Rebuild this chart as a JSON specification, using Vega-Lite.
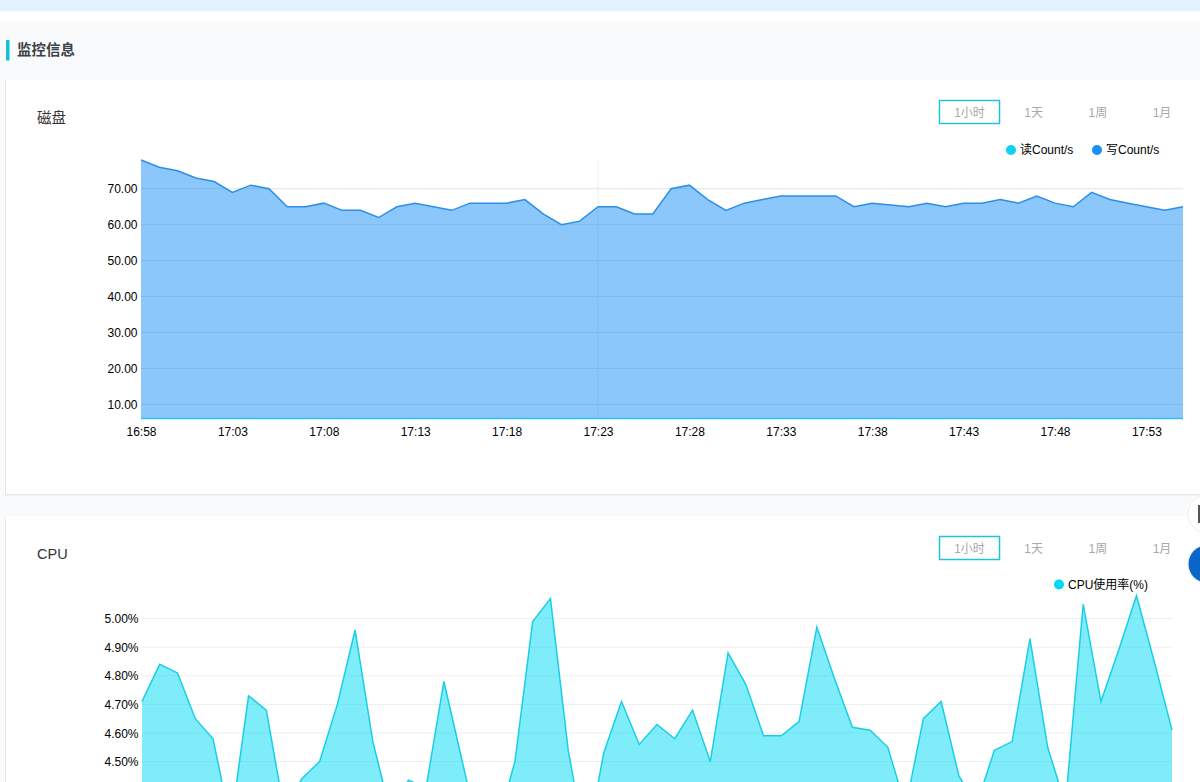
{
"$schema":"https://vega.github.io/schema/vega-lite/v6.json",
"width":1200,"height":782,"padding":0,
"autosize":{"type":"fit","contains":"padding"},
"background":"#f8fafc",
"view":{"stroke":null},
"config":{"font":"Liberation Sans, Noto Sans CJK SC","view":{"stroke":null},
"axis":{"domain":false,"ticks":false,"grid":false,"title":null,"labelColor":"#000000","labelFontSize":12,"labelFont":"Liberation Sans, Noto Sans CJK SC","labelOverlap":false,"labelBound":false,"labelFlush":false},
"legend":{"labelFont":"Liberation Sans, Noto Sans CJK SC","labelFontSize":12,"labelColor":"#000000","title":null}},
"resolve":{"scale":{"x":"independent","y":"independent","color":"independent"},"axis":{"x":"independent","y":"independent"},"legend":{"color":"independent"}},
"datasets":{
"cards":[{"card":"磁盘"},{"card":"CPU"}],
"strip":[{"part":"顶栏"}],
"gap":[{"part":"间隔"}],
"section":[{"name":"监控信息"}],
"icon":[{"name":"工具图标"}],
"buttons":[
{"card":"磁盘","range":"1小时","selected":true},{"card":"磁盘","range":"1天","selected":false},{"card":"磁盘","range":"1周","selected":false},{"card":"磁盘","range":"1月","selected":false},
{"card":"CPU","range":"1小时","selected":true},{"card":"CPU","range":"1天","selected":false},{"card":"CPU","range":"1周","selected":false},{"card":"CPU","range":"1月","selected":false}],
"float":[{"name":"工具","color":"#ffffff"},{"name":"客服","color":"#0a66c8"}],
"diskGrid":[{"v":10,"from":"2024-01-01T16:58:00","to":"2024-01-01T17:55:00"},{"v":20,"from":"2024-01-01T16:58:00","to":"2024-01-01T17:55:00"},{"v":30,"from":"2024-01-01T16:58:00","to":"2024-01-01T17:55:00"},{"v":40,"from":"2024-01-01T16:58:00","to":"2024-01-01T17:55:00"},{"v":50,"from":"2024-01-01T16:58:00","to":"2024-01-01T17:55:00"},{"v":60,"from":"2024-01-01T16:58:00","to":"2024-01-01T17:55:00"},{"v":70,"from":"2024-01-01T16:58:00","to":"2024-01-01T17:55:00"}],
"cross":[{"t":"2024-01-01T17:23:00","lo":6.1,"hi":78}],
"cpuGrid":[{"v":4.5,"from":"2024-01-01T16:58:00","to":"2024-01-01T17:56:00"},{"v":4.6,"from":"2024-01-01T16:58:00","to":"2024-01-01T17:56:00"},{"v":4.7,"from":"2024-01-01T16:58:00","to":"2024-01-01T17:56:00"},{"v":4.8,"from":"2024-01-01T16:58:00","to":"2024-01-01T17:56:00"},{"v":4.9,"from":"2024-01-01T16:58:00","to":"2024-01-01T17:56:00"},{"v":5.0,"from":"2024-01-01T16:58:00","to":"2024-01-01T17:56:00"}],
"disk":[
{"t":"2024-01-01T16:58:00","s":"读Count/s","v":6.1},{"t":"2024-01-01T17:55:00","s":"读Count/s","v":6.1},
{"t":"2024-01-01T16:58:00","s":"写Count/s","v":78},{"t":"2024-01-01T16:59:00","s":"写Count/s","v":76},{"t":"2024-01-01T17:00:00","s":"写Count/s","v":75},{"t":"2024-01-01T17:01:00","s":"写Count/s","v":73},{"t":"2024-01-01T17:02:00","s":"写Count/s","v":72},{"t":"2024-01-01T17:03:00","s":"写Count/s","v":69},{"t":"2024-01-01T17:04:00","s":"写Count/s","v":71},{"t":"2024-01-01T17:05:00","s":"写Count/s","v":70},{"t":"2024-01-01T17:06:00","s":"写Count/s","v":65},{"t":"2024-01-01T17:07:00","s":"写Count/s","v":65},
{"t":"2024-01-01T17:08:00","s":"写Count/s","v":66},{"t":"2024-01-01T17:09:00","s":"写Count/s","v":64},{"t":"2024-01-01T17:10:00","s":"写Count/s","v":64},{"t":"2024-01-01T17:11:00","s":"写Count/s","v":62},{"t":"2024-01-01T17:12:00","s":"写Count/s","v":65},{"t":"2024-01-01T17:13:00","s":"写Count/s","v":66},{"t":"2024-01-01T17:14:00","s":"写Count/s","v":65},{"t":"2024-01-01T17:15:00","s":"写Count/s","v":64},{"t":"2024-01-01T17:16:00","s":"写Count/s","v":66},{"t":"2024-01-01T17:17:00","s":"写Count/s","v":66},
{"t":"2024-01-01T17:18:00","s":"写Count/s","v":66},{"t":"2024-01-01T17:19:00","s":"写Count/s","v":67},{"t":"2024-01-01T17:20:00","s":"写Count/s","v":63},{"t":"2024-01-01T17:21:00","s":"写Count/s","v":60},{"t":"2024-01-01T17:22:00","s":"写Count/s","v":61},{"t":"2024-01-01T17:23:00","s":"写Count/s","v":65},{"t":"2024-01-01T17:24:00","s":"写Count/s","v":65},{"t":"2024-01-01T17:25:00","s":"写Count/s","v":63},{"t":"2024-01-01T17:26:00","s":"写Count/s","v":63},{"t":"2024-01-01T17:27:00","s":"写Count/s","v":70},
{"t":"2024-01-01T17:28:00","s":"写Count/s","v":71},{"t":"2024-01-01T17:29:00","s":"写Count/s","v":67},{"t":"2024-01-01T17:30:00","s":"写Count/s","v":64},{"t":"2024-01-01T17:31:00","s":"写Count/s","v":66},{"t":"2024-01-01T17:32:00","s":"写Count/s","v":67},{"t":"2024-01-01T17:33:00","s":"写Count/s","v":68},{"t":"2024-01-01T17:34:00","s":"写Count/s","v":68},{"t":"2024-01-01T17:35:00","s":"写Count/s","v":68},{"t":"2024-01-01T17:36:00","s":"写Count/s","v":68},{"t":"2024-01-01T17:37:00","s":"写Count/s","v":65},
{"t":"2024-01-01T17:38:00","s":"写Count/s","v":66},{"t":"2024-01-01T17:39:00","s":"写Count/s","v":65.5},{"t":"2024-01-01T17:40:00","s":"写Count/s","v":65},{"t":"2024-01-01T17:41:00","s":"写Count/s","v":66},{"t":"2024-01-01T17:42:00","s":"写Count/s","v":65},{"t":"2024-01-01T17:43:00","s":"写Count/s","v":66},{"t":"2024-01-01T17:44:00","s":"写Count/s","v":66},{"t":"2024-01-01T17:45:00","s":"写Count/s","v":67},{"t":"2024-01-01T17:46:00","s":"写Count/s","v":66},{"t":"2024-01-01T17:47:00","s":"写Count/s","v":68},
{"t":"2024-01-01T17:48:00","s":"写Count/s","v":66},{"t":"2024-01-01T17:49:00","s":"写Count/s","v":65},{"t":"2024-01-01T17:50:00","s":"写Count/s","v":69},{"t":"2024-01-01T17:51:00","s":"写Count/s","v":67},{"t":"2024-01-01T17:52:00","s":"写Count/s","v":66},{"t":"2024-01-01T17:53:00","s":"写Count/s","v":65},{"t":"2024-01-01T17:54:00","s":"写Count/s","v":64},{"t":"2024-01-01T17:55:00","s":"写Count/s","v":65}],
"cpu":[
{"t":"2024-01-01T16:58:00","s":"CPU使用率(%)","v":4.71},{"t":"2024-01-01T16:59:00","s":"CPU使用率(%)","v":4.84},{"t":"2024-01-01T17:00:00","s":"CPU使用率(%)","v":4.81},{"t":"2024-01-01T17:01:00","s":"CPU使用率(%)","v":4.65},{"t":"2024-01-01T17:02:00","s":"CPU使用率(%)","v":4.58},{"t":"2024-01-01T17:03:00","s":"CPU使用率(%)","v":4.28},{"t":"2024-01-01T17:04:00","s":"CPU使用率(%)","v":4.73},{"t":"2024-01-01T17:05:00","s":"CPU使用率(%)","v":4.68},{"t":"2024-01-01T17:06:00","s":"CPU使用率(%)","v":4.33},{"t":"2024-01-01T17:07:00","s":"CPU使用率(%)","v":4.44},
{"t":"2024-01-01T17:08:00","s":"CPU使用率(%)","v":4.5},{"t":"2024-01-01T17:09:00","s":"CPU使用率(%)","v":4.7},{"t":"2024-01-01T17:10:00","s":"CPU使用率(%)","v":4.96},{"t":"2024-01-01T17:11:00","s":"CPU使用率(%)","v":4.57},{"t":"2024-01-01T17:12:00","s":"CPU使用率(%)","v":4.32},{"t":"2024-01-01T17:13:00","s":"CPU使用率(%)","v":4.435},{"t":"2024-01-01T17:14:00","s":"CPU使用率(%)","v":4.41},{"t":"2024-01-01T17:15:00","s":"CPU使用率(%)","v":4.78},{"t":"2024-01-01T17:16:00","s":"CPU使用率(%)","v":4.51},{"t":"2024-01-01T17:17:00","s":"CPU使用率(%)","v":4.24},
{"t":"2024-01-01T17:18:00","s":"CPU使用率(%)","v":4.28},{"t":"2024-01-01T17:19:00","s":"CPU使用率(%)","v":4.5},{"t":"2024-01-01T17:20:00","s":"CPU使用率(%)","v":4.99},{"t":"2024-01-01T17:21:00","s":"CPU使用率(%)","v":5.07},{"t":"2024-01-01T17:22:00","s":"CPU使用率(%)","v":4.54},{"t":"2024-01-01T17:23:00","s":"CPU使用率(%)","v":4.2},{"t":"2024-01-01T17:24:00","s":"CPU使用率(%)","v":4.53},{"t":"2024-01-01T17:25:00","s":"CPU使用率(%)","v":4.71},{"t":"2024-01-01T17:26:00","s":"CPU使用率(%)","v":4.56},{"t":"2024-01-01T17:27:00","s":"CPU使用率(%)","v":4.63},
{"t":"2024-01-01T17:28:00","s":"CPU使用率(%)","v":4.58},{"t":"2024-01-01T17:29:00","s":"CPU使用率(%)","v":4.68},{"t":"2024-01-01T17:30:00","s":"CPU使用率(%)","v":4.5},{"t":"2024-01-01T17:31:00","s":"CPU使用率(%)","v":4.88},{"t":"2024-01-01T17:32:00","s":"CPU使用率(%)","v":4.77},{"t":"2024-01-01T17:33:00","s":"CPU使用率(%)","v":4.59},{"t":"2024-01-01T17:34:00","s":"CPU使用率(%)","v":4.59},{"t":"2024-01-01T17:35:00","s":"CPU使用率(%)","v":4.64},{"t":"2024-01-01T17:36:00","s":"CPU使用率(%)","v":4.97},{"t":"2024-01-01T17:37:00","s":"CPU使用率(%)","v":4.79},
{"t":"2024-01-01T17:38:00","s":"CPU使用率(%)","v":4.62},{"t":"2024-01-01T17:39:00","s":"CPU使用率(%)","v":4.61},{"t":"2024-01-01T17:40:00","s":"CPU使用率(%)","v":4.55},{"t":"2024-01-01T17:41:00","s":"CPU使用率(%)","v":4.34},{"t":"2024-01-01T17:42:00","s":"CPU使用率(%)","v":4.65},{"t":"2024-01-01T17:43:00","s":"CPU使用率(%)","v":4.71},{"t":"2024-01-01T17:44:00","s":"CPU使用率(%)","v":4.45},{"t":"2024-01-01T17:45:00","s":"CPU使用率(%)","v":4.35},{"t":"2024-01-01T17:46:00","s":"CPU使用率(%)","v":4.54},{"t":"2024-01-01T17:47:00","s":"CPU使用率(%)","v":4.57},
{"t":"2024-01-01T17:48:00","s":"CPU使用率(%)","v":4.93},{"t":"2024-01-01T17:49:00","s":"CPU使用率(%)","v":4.55},{"t":"2024-01-01T17:50:00","s":"CPU使用率(%)","v":4.35},{"t":"2024-01-01T17:51:00","s":"CPU使用率(%)","v":5.05},{"t":"2024-01-01T17:52:00","s":"CPU使用率(%)","v":4.71},{"t":"2024-01-01T17:53:00","s":"CPU使用率(%)","v":4.89},{"t":"2024-01-01T17:54:00","s":"CPU使用率(%)","v":5.08},{"t":"2024-01-01T17:55:00","s":"CPU使用率(%)","v":4.85},{"t":"2024-01-01T17:56:00","s":"CPU使用率(%)","v":4.61}]
},
"layer":[
{"data":{"name":"strip"},"mark":{"type":"rect","fill":"#e3f2fd"},"encoding":{
"x":{"field":"part","type":"nominal","axis":null,"scale":{"range":[0,1200],"paddingInner":0,"paddingOuter":0}},
"y":{"field":"part","type":"nominal","axis":null,"scale":{"range":[0,11],"paddingInner":0,"paddingOuter":0}}}},
{"data":{"name":"gap"},"mark":{"type":"rect","fill":"#ffffff"},"encoding":{
"x":{"field":"part","type":"nominal","axis":null,"scale":{"range":[0,1200],"paddingInner":0,"paddingOuter":0}},
"y":{"field":"part","type":"nominal","axis":null,"scale":{"range":[11,22],"paddingInner":0,"paddingOuter":0}}}},
{"data":{"name":"cards"},"mark":{"type":"rect","fill":"#e4e6e8","clip":true},"encoding":{
"x":{"datum":"磁盘","type":"nominal","axis":null,"scale":{"domain":["磁盘"],"range":[5,1200],"paddingInner":0,"paddingOuter":0}},
"y":{"field":"card","type":"nominal","axis":null,"scale":{"domain":["磁盘","CPU"],"range":[81,932],"paddingInner":0.0505,"paddingOuter":0}}}},
{"data":{"name":"cards"},"mark":{"type":"rect","fill":"#ffffff","clip":true},"encoding":{
"x":{"datum":"磁盘","type":"nominal","axis":null,"scale":{"domain":["磁盘"],"range":[6,1200],"paddingInner":0,"paddingOuter":0}},
"y":{"field":"card","type":"nominal","axis":null,"scale":{"domain":["磁盘","CPU"],"range":[80,930],"paddingInner":0.0505,"paddingOuter":0}}}},
{"data":{"name":"section"},"mark":{"type":"rect","fill":"#14c0d8"},"encoding":{
"x":{"field":"name","type":"nominal","axis":null,"scale":{"range":[6,9.5],"paddingInner":0,"paddingOuter":0}},
"y":{"field":"name","type":"nominal","axis":null,"scale":{"range":[40,60.5],"paddingInner":0,"paddingOuter":0}}}},
{"data":{"name":"section"},"mark":{"type":"text","align":"left","baseline":"middle","fontSize":14.5,"fontWeight":"bold","fill":"#3c3f45","font":"Noto Sans CJK SC"},"encoding":{
"text":{"field":"name"},
"x":{"field":"name","type":"nominal","axis":null,"scale":{"type":"point","range":[17,17],"padding":0}},
"y":{"field":"name","type":"nominal","axis":null,"scale":{"type":"point","range":[51,51],"padding":0}}}},
{"data":{"name":"cards"},"mark":{"type":"text","align":"left","baseline":"middle","fontSize":14.5,"fill":"#333333"},"encoding":{
"text":{"field":"card"},
"x":{"field":"card","type":"nominal","axis":null,"scale":{"type":"point","range":[37,37],"padding":0}},
"y":{"field":"card","type":"nominal","axis":null,"scale":{"type":"point","domain":["磁盘","CPU"],"range":[119,555],"padding":0}}}},
{"data":{"name":"buttons"},"transform":[{"filter":"datum.selected"}],"mark":{"type":"rect","width":60,"height":23,"fill":"#ffffff","stroke":"#1fc4d8","strokeWidth":1.5},"encoding":{
"x":{"field":"range","type":"nominal","axis":null,"scale":{"type":"point","domain":["1小时","1天","1周","1月"],"range":[969.5,1162],"padding":0}},
"y":{"field":"card","type":"nominal","axis":null,"scale":{"type":"point","domain":["磁盘","CPU"],"range":[112,548],"padding":0}}}},
{"data":{"name":"buttons"},"mark":{"type":"text","align":"center","baseline":"middle","fontSize":12,"fill":"#a8a8a8"},"encoding":{
"text":{"field":"range"},
"x":{"field":"range","type":"nominal","axis":null,"scale":{"type":"point","domain":["1小时","1天","1周","1月"],"range":[969.5,1162],"padding":0}},
"y":{"field":"card","type":"nominal","axis":null,"scale":{"type":"point","domain":["磁盘","CPU"],"range":[113,549],"padding":0}}}},
{"data":{"name":"diskGrid"},"mark":{"type":"rule","stroke":"#e2e2e2","strokeWidth":1},"encoding":{
"x":{"field":"from","type":"temporal","axis":null,"scale":{"range":[141,1183],"nice":false}},"x2":{"field":"to"},
"y":{"field":"v","type":"quantitative","axis":null,"scale":{"domain":[6.1,78],"range":[418.5,160],"nice":false,"zero":false}}}},
{"data":{"name":"cross"},"mark":{"type":"rule","stroke":"#ececec","strokeWidth":1},"encoding":{
"x":{"field":"t","type":"temporal","axis":null,"scale":{"domain":["2024-01-01T16:58:00","2024-01-01T17:55:00"],"range":[141,1183],"nice":false}},
"y":{"field":"lo","type":"quantitative","axis":null,"scale":{"domain":[6.1,78],"range":[418.5,160],"nice":false,"zero":false}},"y2":{"field":"hi"}}},
{"data":{"name":"disk"},"mark":{"type":"area","opacity":0.5},"encoding":{
"x":{"field":"t","type":"temporal","scale":{"range":[141,1183],"nice":false},
"axis":{"orient":"bottom","zindex":1,"offset":-363.5,"labelPadding":8,"format":"%H:%M","values":["2024-01-01T16:58:00","2024-01-01T17:03:00","2024-01-01T17:08:00","2024-01-01T17:13:00","2024-01-01T17:18:00","2024-01-01T17:23:00","2024-01-01T17:28:00","2024-01-01T17:33:00","2024-01-01T17:38:00","2024-01-01T17:43:00","2024-01-01T17:48:00","2024-01-01T17:53:00"]}},
"y":{"field":"v","type":"quantitative","stack":null,"scale":{"domain":[6.1,78],"range":[418.5,160],"nice":false,"zero":false},
"axis":{"orient":"left","zindex":1,"offset":-141,"labelPadding":4,"format":".2f","values":[10,20,30,40,50,60,70]}},
"color":{"field":"s","type":"nominal","scale":{"domain":["读Count/s","写Count/s"],"range":["#0fd0f2","#1890f5"]},
"legend":{"orient":"none","legendX":1005,"legendY":144,"direction":"horizontal","symbolType":"circle","symbolSize":100,"symbolOpacity":1,"labelOffset":3,"columnPadding":17}}}},
{"data":{"name":"disk"},"mark":{"type":"line","strokeWidth":1.5},"encoding":{
"x":{"field":"t","type":"temporal","axis":null,"scale":{"range":[141,1183],"nice":false}},
"y":{"field":"v","type":"quantitative","axis":null,"stack":null,"scale":{"domain":[6.1,78],"range":[418.5,160],"nice":false,"zero":false}},
"color":{"field":"s","type":"nominal","legend":null,"scale":{"domain":["读Count/s","写Count/s"],"range":["#30c0f5","#2b8fe8"]}}}},
{"data":{"name":"cpuGrid"},"mark":{"type":"rule","stroke":"#eeeeee","strokeWidth":1},"encoding":{
"x":{"field":"from","type":"temporal","axis":null,"scale":{"range":[142,1172],"nice":false}},"x2":{"field":"to"},
"y":{"field":"v","type":"quantitative","axis":{"orient":"left","zindex":1,"offset":-142,"labelPadding":4,"values":[4.5,4.6,4.7,4.8,4.9,5.0],"labelExpr":"format(datum.value,'.2f')+'%'"},"scale":{"domain":[4.42,5.08],"range":[784.5,595.7],"nice":false,"zero":false}}}},
{"data":{"name":"cpu"},"mark":{"type":"area","opacity":0.5,"clip":true},"encoding":{
"x":{"field":"t","type":"temporal","axis":null,"scale":{"range":[142,1172],"nice":false}},
"y":{"field":"v","type":"quantitative","axis":null,"stack":null,"scale":{"domain":[4.42,5.08],"range":[784.5,595.7],"nice":false,"zero":false}},
"color":{"field":"s","type":"nominal","scale":{"domain":["CPU使用率(%)"],"range":["#00d9f5"]},
"legend":{"orient":"none","legendX":1053,"legendY":578.5,"symbolType":"circle","symbolSize":100,"symbolOpacity":1,"labelOffset":3}}}},
{"data":{"name":"cpu"},"mark":{"type":"line","strokeWidth":1.5,"clip":true,"stroke":"#18cfe6"},"encoding":{
"x":{"field":"t","type":"temporal","axis":null,"scale":{"range":[142,1172],"nice":false}},
"y":{"field":"v","type":"quantitative","axis":null,"scale":{"domain":[4.42,5.08],"range":[784.5,595.7],"nice":false,"zero":false}}}},
{"data":{"name":"float"},"mark":{"type":"point","filled":true,"shape":"circle","size":1444,"opacity":1,"clip":true,"stroke":"#eeeeee","strokeWidth":1},"encoding":{
"x":{"field":"name","type":"nominal","axis":null,"scale":{"type":"point","range":[1207,1207],"padding":0}},
"y":{"field":"name","type":"nominal","axis":null,"scale":{"type":"point","domain":["工具","客服"],"range":[514,564],"padding":0}},
"fill":{"field":"color","type":"nominal","scale":null}}},
{"data":{"name":"icon"},"mark":{"type":"rect","fill":"#555555"},"encoding":{
"x":{"field":"name","type":"nominal","axis":null,"scale":{"range":[1198,1200],"paddingInner":0,"paddingOuter":0}},
"y":{"field":"name","type":"nominal","axis":null,"scale":{"range":[505,523],"paddingInner":0,"paddingOuter":0}}}}
]
}
